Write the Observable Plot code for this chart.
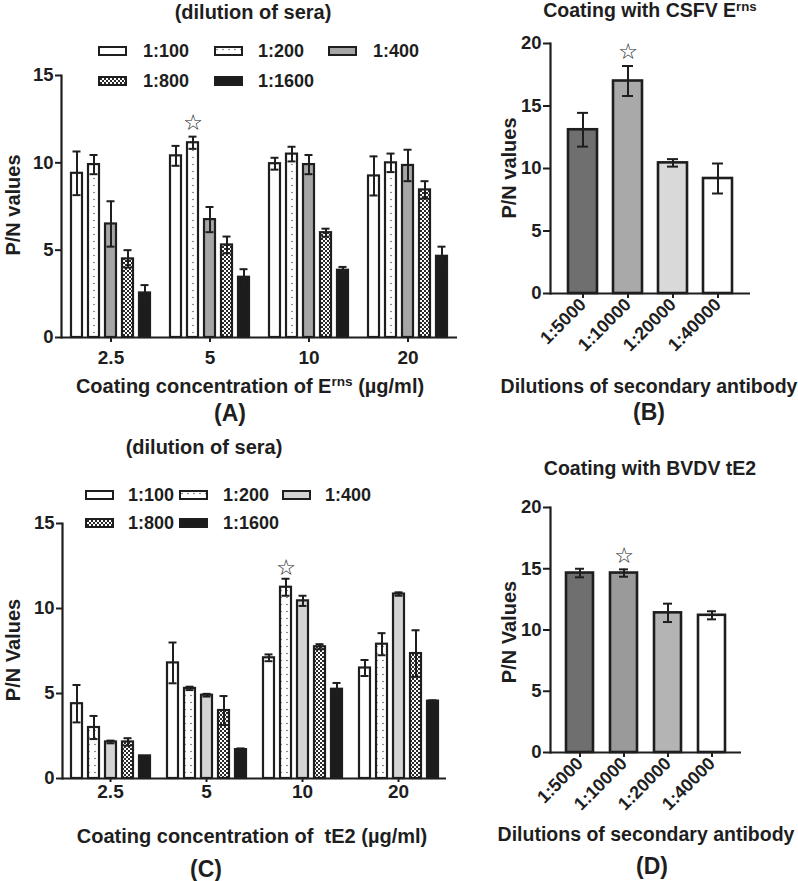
<!DOCTYPE html>
<html><head><meta charset="utf-8">
<script src="https://cdn.jsdelivr.net/npm/d3@7"></script>
<script src="https://cdn.jsdelivr.net/npm/@observablehq/plot@0.6"></script>
<style>
body{margin:0;background:#fff;}
#fig{position:relative;width:798px;height:881px;overflow:hidden;font-family:"Liberation Sans",Arial,sans-serif;font-weight:bold;color:#1e1e1e;}
.t{position:absolute;transform:translate(-50%,-50%);white-space:pre;line-height:1;}
.yl{position:absolute;transform:translate(-50%,-50%) rotate(-90deg);white-space:pre;line-height:1;}
.lt{position:absolute;transform:translateY(-50%);white-space:pre;line-height:1;font-size:18px;}
sup{font-size:0.68em;vertical-align:0.5em;line-height:0;}
</style></head><body>
<svg width="0" height="0" style="position:absolute">
  <defs>
    <pattern id="dots" width="6" height="7" patternUnits="userSpaceOnUse">
      <rect width="6" height="7" fill="#ffffff"/>
      <circle cx="3" cy="3.5" r="0.75" fill="#555"/>
    </pattern>
    <pattern id="checker" width="4" height="4" patternUnits="userSpaceOnUse">
      <rect width="4" height="4" fill="#ffffff"/>
      <rect width="2" height="2" fill="#2a2a2a"/>
      <rect x="2" y="2" width="2" height="2" fill="#2a2a2a"/>
    </pattern>
  </defs>
</svg>
<div id="fig"></div>
<script>
// ---------- data ----------
const concentrations = ["2.5", "5", "10", "20"];
const seraDilutions = ["1:100", "1:200", "1:400", "1:800", "1:1600"];
// Panel A (Erns coating): rows = concentration, columns = sera dilution
const meansA = [
  [9.4, 9.9, 6.5, 4.5, 2.55],
  [10.4, 11.15, 6.75, 5.3, 3.45],
  [9.95, 10.5, 9.9, 6.0, 3.85],
  [9.25, 10.0, 9.85, 8.45, 4.65]
];
const errsA = [
  [1.25, 0.55, 1.3, 0.5, 0.45],
  [0.57, 0.35, 0.72, 0.48, 0.46],
  [0.34, 0.42, 0.55, 0.23, 0.19],
  [1.12, 0.53, 0.9, 0.5, 0.55]
];
const starA = ["5", "1:200"];
// Panel C (tE2 coating)
const meansC = [
  [4.4, 3.0, 2.15, 2.15, 1.33],
  [6.8, 5.3, 4.9, 4.0, 1.7],
  [7.1, 11.25, 10.45, 7.75, 5.25],
  [6.5, 7.9, 10.85, 7.35, 4.55]
];
const errsC = [
  [1.1, 0.68, 0.08, 0.22, 0],
  [1.2, 0.1, 0.08, 0.85, 0.07],
  [0.2, 0.5, 0.3, 0.15, 0.37],
  [0.47, 0.65, 0.1, 1.37, 0.05]
];
const starC = ["10", "1:200"];
// Panels B and D (secondary antibody dilutions)
const secondaryDilutions = ["1:5000", "1:10000", "1:20000", "1:40000"];
const meansB = [13.1, 17.0, 10.45, 9.2];
const errsB = [1.35, 1.2, 0.3, 1.2];
const starB = "1:10000";
const meansD = [14.65, 14.65, 11.4, 11.2];
const errsD = [0.35, 0.3, 0.75, 0.33];
const starD = "1:10000";
const ticksA = [0, 5, 10, 15];
const ticksB = [0, 5, 10, 15, 20];

// ---------- styles ----------
const INK = "#1e1e1e";
const fillsA = ["#ffffff", "url(#dots)", "#a6a6a6", "url(#checker)", "#1c1c1c"];
const fillsC = ["#ffffff", "url(#dots)", "#d4d4d4", "url(#checker)", "#1c1c1c"];
const fillsB = ["#6f6f6f", "#a9a9a9", "#d9d9d9", "#ffffff"];
const fillsD = ["#6f6f6f", "#9a9a9a", "#b4b4b4", "#ffffff"];
const FONT = "'Liberation Sans', Arial, sans-serif";
const baseStyle = {fontFamily: FONT, fontSize: "18px", fontWeight: "bold", color: INK, background: "transparent", overflow: "visible"};
const STAR = {fontSize: 22, fontWeight: "normal", fontFamily: "DejaVu Sans", fill: INK};

const fig = document.getElementById("fig");
function place(node, left, top) {
  node.style.position = "absolute";
  node.style.left = left + "px";
  node.style.top = top + "px";
  fig.appendChild(node);
}
function label(html, x, y, size, cls = "t") {
  const d = document.createElement("div");
  d.className = cls;
  d.innerHTML = html;
  d.style.left = x + "px";
  d.style.top = y + "px";
  d.style.fontSize = size + "px";
  fig.appendChild(d);
}

function groupedTable(means, errs) {
  return concentrations.flatMap((c, i) => seraDilutions.map((dil, j) => ({
    conc: c, dil, mean: means[i][j], err: errs[i][j]
  })));
}

function grouped(table, fills, star, o) {
  const withErr = table.filter(d => d.err > 0);
  const starRows = table.filter(d => d.conc === star[0] && d.dil === star[1]);
  return Plot.plot({
    width: o.width, height: o.height,
    marginLeft: o.ml, marginRight: o.mr, marginTop: o.mt, marginBottom: o.mb,
    style: baseStyle,
    fx: {domain: concentrations, padding: 0},
    x: {domain: seraDilutions, paddingInner: o.pin, paddingOuter: o.pout, axis: null},
    y: {domain: [0, 15]},
    color: {type: "ordinal", domain: seraDilutions, range: fills},
    marks: [
      Plot.barY(table, {fx: "conc", x: "dil", y: "mean", fill: "dil", stroke: INK, strokeWidth: 2.2}),
      Plot.ruleX(withErr, {fx: "conc", x: "dil", y1: d => d.mean - d.err, y2: d => d.mean + d.err, stroke: INK, strokeWidth: 2}),
      Plot.tickY(withErr, {fx: "conc", x: "dil", y: d => d.mean + d.err, stroke: INK, strokeWidth: 2, insetLeft: 1.5, insetRight: 1.5}),
      Plot.tickY(withErr, {fx: "conc", x: "dil", y: d => d.mean - d.err, stroke: INK, strokeWidth: 2, insetLeft: 1.5, insetRight: 1.5}),
      Plot.ruleY([0], {stroke: INK, strokeWidth: 2.2}),
      Plot.frame({anchor: "left", facetAnchor: "left", stroke: INK, strokeWidth: 2.2}),
      Plot.axisY({ticks: ticksA, tickSize: 6, tickPadding: 2, label: null, stroke: INK, strokeWidth: 2, fontSize: 18.5}),
      Plot.axisFx({anchor: "bottom", tickSize: o.fts, tickPadding: o.ftp, label: null, stroke: INK, strokeWidth: 2, fontSize: 19}),
      Plot.text(starRows, {fx: "conc", x: "dil", y: d => d.mean + d.err, text: () => "\u2606", dy: o.sdy, ...STAR})
    ]
  });
}

function simple(means, errs, fills, star, o) {
  const table = secondaryDilutions.map((dil, i) => ({dil, mean: means[i], err: errs[i]}));
  return Plot.plot({
    width: o.width, height: o.height,
    marginLeft: o.ml, marginRight: o.mr, marginTop: o.mt, marginBottom: o.mb,
    style: baseStyle,
    x: {domain: secondaryDilutions, paddingInner: o.pin, paddingOuter: o.pout},
    y: {domain: [0, 20]},
    color: {type: "ordinal", domain: secondaryDilutions, range: fills},
    marks: [
      Plot.barY(table, {x: "dil", y: "mean", fill: "dil", stroke: INK, strokeWidth: 2.6}),
      Plot.ruleX(table, {x: "dil", y1: d => d.mean - d.err, y2: d => d.mean + d.err, stroke: INK, strokeWidth: 2}),
      Plot.tickY(table, {x: "dil", y: d => d.mean + d.err, stroke: INK, strokeWidth: 2, insetLeft: 9, insetRight: 9}),
      Plot.tickY(table, {x: "dil", y: d => d.mean - d.err, stroke: INK, strokeWidth: 2, insetLeft: 9, insetRight: 9}),
      Plot.ruleY([0], {stroke: INK, strokeWidth: 2.2}),
      Plot.frame({anchor: "left", stroke: INK, strokeWidth: 2.2}),
      Plot.axisY({ticks: ticksB, tickSize: 7, tickPadding: 2, label: null, stroke: INK, strokeWidth: 2, fontSize: 18.5}),
      Plot.axisX({tickRotate: -45, tickSize: 5, tickPadding: 3, label: null, stroke: INK, strokeWidth: 2, fontSize: 18}),
      Plot.text(table.filter(d => d.dil === star), {x: "dil", y: d => d.mean + d.err, text: () => "\u2606", dy: o.sdy, ...STAR})
    ]
  });
}

function legend(fills, rowYs, items) {
  seraDilutions.forEach((dil, i) => {
    const it = items[i];
    const y = rowYs[it[0]];
    const s = d3.create("svg").attr("width", 30).attr("height", 11);
    s.append("rect").attr("x", 1).attr("y", 1).attr("width", 27).attr("height", 8)
      .attr("fill", fills[i]).attr("stroke", INK).attr("stroke-width", 2);
    place(s.node(), it[1] - 1, y - 5.5);
    const t = document.createElement("div");
    t.className = "lt";
    t.textContent = dil;
    t.style.left = it[2] + "px";
    t.style.top = y + "px";
    fig.appendChild(t);
  });
}

// ---------- panel A ----------
const tableA = groupedTable(meansA, errsA);
place(grouped(tableA, fillsA, starA, {width: 470, height: 375, ml: 60, mr: 13, mt: 75, mb: 38, pin: 0.38, pout: 0.45, fts: 5, ftp: 8, sdy: -14}), 0, 0);
label("(dilution of sera)", 253, 12, 20);
legend(fillsA, [51, 81], [[0, 99, 143], [0, 215, 258], [0, 329, 373], [1, 99, 143], [1, 215, 258]]);
label("P/N values", 13, 205, 20, "yl");
label("Coating concentration of E<sup>rns</sup> (\u00b5g/ml)", 250, 386, 20);
label("(A)", 230, 413, 23);

// ---------- panel B ----------
place(simple(meansB, errsB, fillsB, starB, {width: 318, height: 360, ml: 70, mr: 48, mt: 43, mb: 67, pin: 0.36, pout: 0.4, sdy: -14}), 480, 0);
label("Coating with CSFV E<sup>rns</sup>", 650, 11, 19.5);
label("P/N values", 509, 168, 20, "yl");
label("Dilutions of secondary antibody", 649, 387, 19.5);
label("(B)", 649, 412, 23);

// ---------- panel C ----------
const tableC = groupedTable(meansC, errsC);
place(grouped(tableC, fillsC, starC, {width: 470, height: 370, ml: 60, mr: 23, mt: 83, mb: 32, pin: 0.36, pout: 0.48, fts: 4, ftp: 1.5, sdy: -11}), 0, 440);
label("(dilution of sera)", 204, 447, 20);
legend(fillsC, [495, 523], [[0, 86, 128], [0, 180, 223], [0, 283, 325], [1, 86, 128], [1, 180, 223]]);
label("P/N Values", 13, 650, 20, "yl");
label("Coating concentration of  tE2 (\u00b5g/ml)", 252, 836, 20);
label("(C)", 206, 869, 23);

// ---------- panel D ----------
place(simple(meansD, errsD, fillsD, starD, {width: 318, height: 360, ml: 70, mr: 57, mt: 47, mb: 68, pin: 0.38, pout: 0.36, sdy: -13}), 480, 460);
label("Coating with BVDV tE2", 650, 469, 19.5);
label("P/N Values", 509, 632, 20, "yl");
label("Dilutions of secondary antibody", 646, 835, 19.5);
label("(D)", 652, 866, 23);
</script>
</body></html>
